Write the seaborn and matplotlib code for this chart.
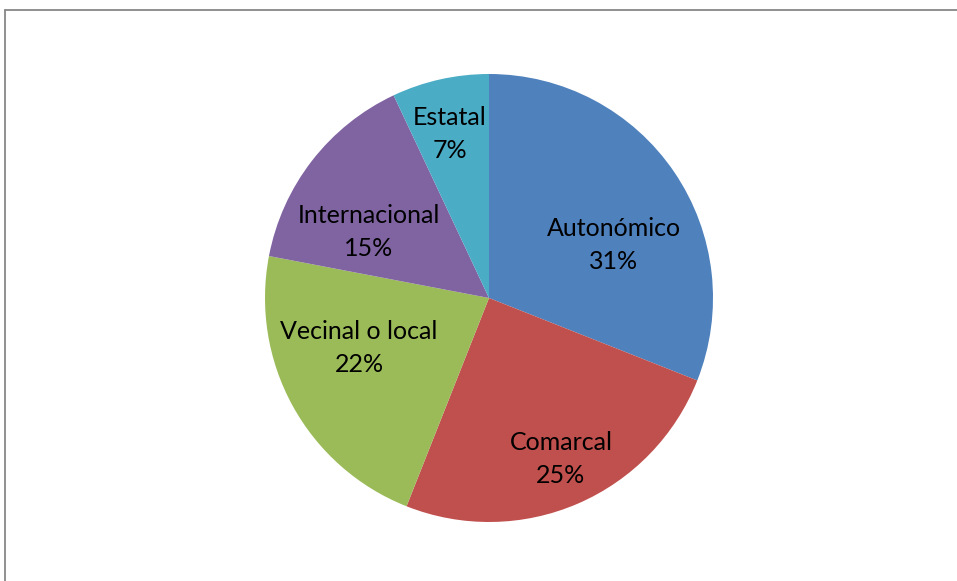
import matplotlib
matplotlib.use("Agg")
import matplotlib.pyplot as plt
from matplotlib.lines import Line2D
import seaborn as sns

# Distribution by scope
categories = ["Autonómico", "Comarcal", "Vecinal o local", "Internacional", "Estatal"]
percentages = [31, 25, 22, 15, 7]

sns.set_theme(style="white")
plt.rcParams["font.family"] = ["Lato", "DejaVu Sans"]

colors = ["#4F81BD", "#C0504D", "#9BBB59", "#8064A2", "#4BACC6"]

fig = plt.figure(figsize=(9.57, 5.81), dpi=100)
# Pie axes: centre at (489, 298) px, radius 224 px
cx, cy, r = 489, 298, 224
W, H = 957, 581
ax = fig.add_axes([(cx - r) / W, (H - cy - r) / H, 2 * r / W, 2 * r / H])

wedges, _ = ax.pie(percentages, colors=colors, startangle=90, counterclock=False,
                   radius=1.0, wedgeprops=dict(linewidth=0))
ax.set_xlim(-1, 1)
ax.set_ylim(-1, 1)
ax.set_aspect("equal")
ax.axis("off")

# label anchor for each wedge, in units of the radius
label_pos = [(0.558, 0.237), (0.321, -0.719), (-0.580, -0.223),
             (-0.536, 0.295), (-0.174, 0.732)]
for cat, val, (lx, ly) in zip(categories, percentages, label_pos):
    ax.text(lx, ly, f"{cat}\n{val}%", ha="center", va="center",
            fontsize=18, color="black", linespacing=1.5)

# chart frame: top and left edges
fig.add_artist(Line2D([5 / W, 5 / W], [0, 1 - 9.5 / H], transform=fig.transFigure,
                      color="#878787", linewidth=1.3))
fig.add_artist(Line2D([5 / W, 1], [1 - 9.5 / H, 1 - 9.5 / H], transform=fig.transFigure,
                      color="#878787", linewidth=1.3))

fig.savefig("out.png", dpi=100, facecolor="white")
